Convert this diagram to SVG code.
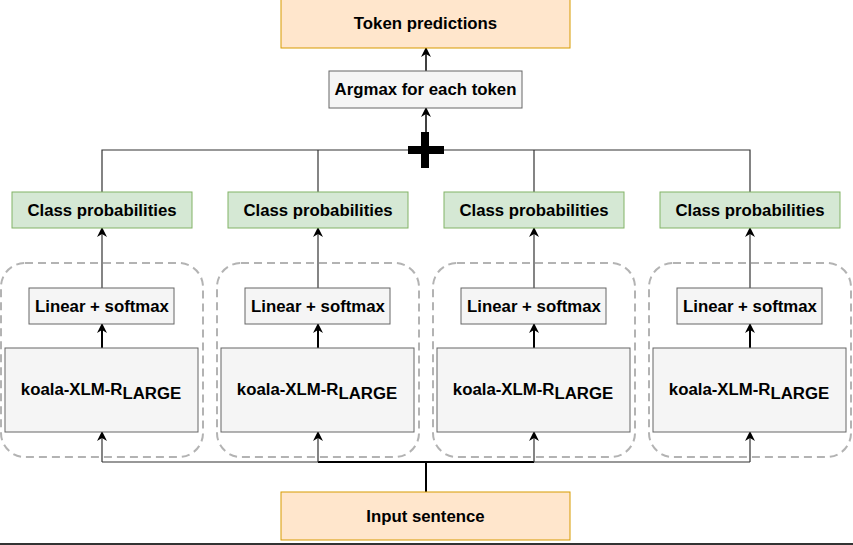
<svg xmlns="http://www.w3.org/2000/svg" width="853" height="545" viewBox="0 0 853 545">
<defs>
<style>
.t{font-family:"Liberation Sans",Arial,sans-serif;font-weight:bold;font-size:16.8px;fill:#000;text-anchor:middle;dominant-baseline:central}
.orange{fill:#ffe6cc;stroke:#d79b00;stroke-width:1}
.gray{fill:#f5f5f5;stroke:#666;stroke-width:1}
.green{fill:#d5e8d4;stroke:#82b366;stroke-width:1}
.cont{fill:none;stroke:#b3b3b3;stroke-width:2;stroke-dasharray:8 5}
.c{fill:none;stroke:#333;stroke-width:1.2}
.ca{fill:none;stroke:#000;stroke-width:1.5;marker-end:url(#arr)}
</style>
<marker id="arr" viewBox="0 0 10 10" refX="9" refY="5" markerWidth="10" markerHeight="10" markerUnits="userSpaceOnUse" orient="auto">
<path d="M0,0 L10,5 L0,10 L3,5 Z" fill="#000"/>
</marker>
</defs>
<rect x="0" y="0" width="853" height="545" fill="#fff"/>

<g id="containers">
<rect class="cont" x="1" y="263" width="202" height="194" rx="24"/>
<rect class="cont" x="217" y="263" width="202" height="194" rx="24"/>
<rect class="cont" x="433" y="263" width="202" height="194" rx="24"/>
<rect class="cont" x="649" y="263" width="202" height="194" rx="24"/>
</g>

<g id="connectors">
<line class="ca" x1="426" y1="132" x2="426" y2="108"/>
<line class="ca" x1="426" y1="72" x2="426" y2="48"/>
<polyline class="c" points="102,192 102,150 750,150 750,192"/>
<line class="c" x1="318" y1="150" x2="318" y2="192"/>
<line class="c" x1="534" y1="150" x2="534" y2="192"/>
<line class="ca" x1="102" y1="288" x2="102" y2="228" style="stroke:#333;stroke-width:1.2"/>
<line class="ca" x1="318" y1="288" x2="318" y2="228" style="stroke:#333;stroke-width:1.2"/>
<line class="ca" x1="534" y1="288" x2="534" y2="228" style="stroke:#333;stroke-width:1.2"/>
<line class="ca" x1="750" y1="288" x2="750" y2="228" style="stroke:#333;stroke-width:1.2"/>
<line class="ca" x1="102" y1="348" x2="102" y2="324" style="stroke-width:2"/>
<line class="ca" x1="318" y1="348" x2="318" y2="324" style="stroke-width:2"/>
<line class="ca" x1="534" y1="348" x2="534" y2="324" style="stroke-width:2"/>
<line class="ca" x1="750" y1="348" x2="750" y2="324" style="stroke-width:2"/>
<line class="c" x1="102" y1="462" x2="750" y2="462"/>
<line class="c" x1="318" y1="462" x2="534" y2="462" style="stroke-width:2;stroke:#000"/>
<line class="c" x1="426" y1="462" x2="426" y2="492" style="stroke-width:2;stroke:#000"/>
<line class="ca" x1="102" y1="462" x2="102" y2="432" style="stroke:#333;stroke-width:1.2"/>
<line class="ca" x1="318" y1="462" x2="318" y2="432" style="stroke:#333;stroke-width:1.2"/>
<line class="ca" x1="534" y1="462" x2="534" y2="432" style="stroke:#333;stroke-width:1.2"/>
<line class="ca" x1="750" y1="462" x2="750" y2="432" style="stroke:#333;stroke-width:1.2"/>
</g>

<g id="plus">
<rect x="408" y="146" width="36" height="8" fill="#000"/>
<rect x="421" y="132" width="8" height="36" fill="#000"/>
</g>

<g id="token-predictions">
<rect class="orange" x="281" y="-1" width="289" height="49"/>
<text class="t" x="425.5" y="23">Token predictions</text>
</g>
<g id="argmax">
<rect class="gray" x="329" y="71" width="193" height="37"/>
<text class="t" x="425.5" y="89.5">Argmax for each token</text>
</g>

<g id="class-prob-1"><rect class="green" x="12" y="192" width="180" height="36"/><text class="t" x="102" y="210">Class probabilities</text></g>
<g id="class-prob-2"><rect class="green" x="228" y="192" width="180" height="36"/><text class="t" x="318" y="210">Class probabilities</text></g>
<g id="class-prob-3"><rect class="green" x="444" y="192" width="180" height="36"/><text class="t" x="534" y="210">Class probabilities</text></g>
<g id="class-prob-4"><rect class="green" x="660" y="192" width="180" height="36"/><text class="t" x="750" y="210">Class probabilities</text></g>

<g id="linear-1"><rect class="gray" x="29" y="288" width="145" height="36"/><text class="t" x="102" y="306">Linear + softmax</text></g>
<g id="linear-2"><rect class="gray" x="245" y="288" width="145" height="36"/><text class="t" x="318" y="306">Linear + softmax</text></g>
<g id="linear-3"><rect class="gray" x="461" y="288" width="145" height="36"/><text class="t" x="534" y="306">Linear + softmax</text></g>
<g id="linear-4"><rect class="gray" x="677" y="288" width="145" height="36"/><text class="t" x="750" y="306">Linear + softmax</text></g>

<g id="koala-1"><rect class="gray" x="5" y="348" width="193" height="84"/><text class="t" x="101" y="389">koala-XLM-R<tspan dy="4">LARGE</tspan></text></g>
<g id="koala-2"><rect class="gray" x="221" y="348" width="193" height="84"/><text class="t" x="317" y="389">koala-XLM-R<tspan dy="4">LARGE</tspan></text></g>
<g id="koala-3"><rect class="gray" x="437" y="348" width="193" height="84"/><text class="t" x="533" y="389">koala-XLM-R<tspan dy="4">LARGE</tspan></text></g>
<g id="koala-4"><rect class="gray" x="653" y="348" width="193" height="84"/><text class="t" x="749" y="389">koala-XLM-R<tspan dy="4">LARGE</tspan></text></g>

<g id="input-sentence">
<rect class="orange" x="281" y="492" width="289" height="48"/>
<text class="t" x="425.5" y="516">Input sentence</text>
</g>
<line x1="0" y1="544" x2="853" y2="544" stroke="#333" stroke-width="2"/>
</svg>
